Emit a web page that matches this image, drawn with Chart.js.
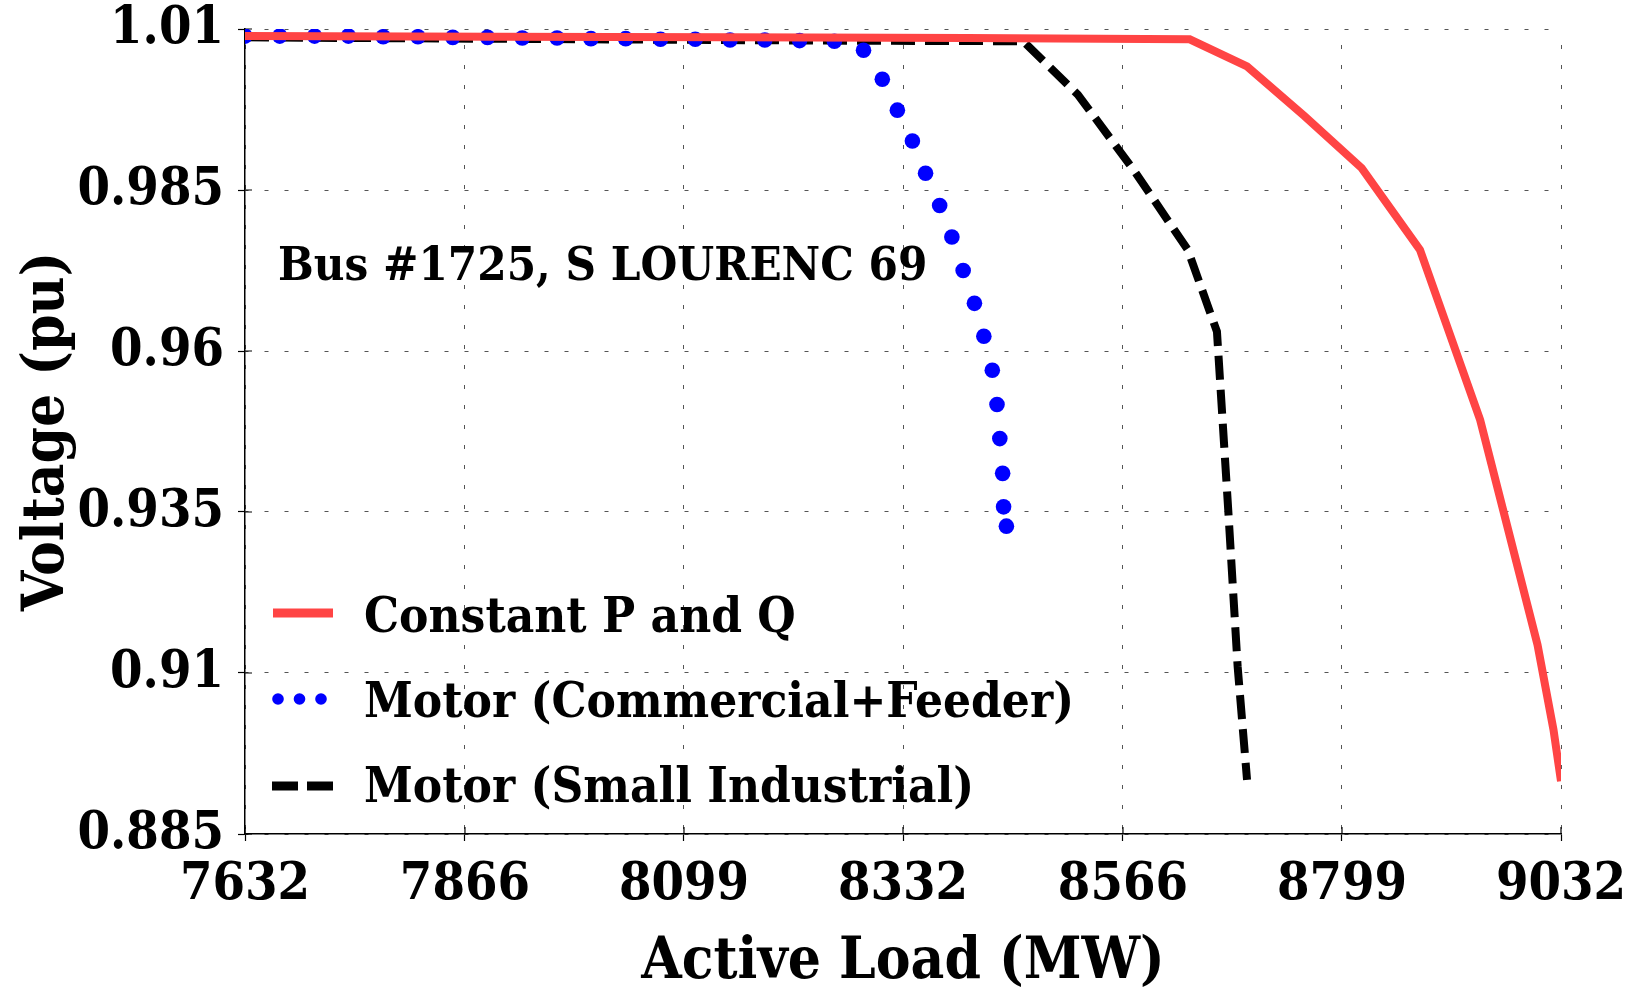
<!DOCTYPE html>
<html><head><meta charset="utf-8">
<script src="https://cdn.jsdelivr.net/npm/chart.js@4.4.1/dist/chart.umd.min.js"></script>
<style>html,body{margin:0;padding:0;background:#fff;overflow:hidden}canvas{display:block}</style>
</head><body>
<canvas id="c" width="1635" height="992"></canvas>
<script>
const FONT = '"DejaVu Serif Condensed", "DejaVu Serif", serif';

const X_TICKS = [7632, 7866, 8099, 8332, 8566, 8799, 9032];
const X_TICK_LABELS = ['7632', '7866', '8099', '8332', '8566', '8799', '9032'];
const Y_TICKS = [0.885, 0.91, 0.935, 0.96, 0.985, 1.01];
const Y_TICK_LABELS = ['0.885', '0.91', '0.935', '0.96', '0.985', '1.01'];
const X_TITLE = 'Active Load (MW)';
const Y_TITLE = 'Voltage (pu)';
const ANNOTATION = 'Bus #1725, S LOURENC 69';
const SERIES_LABELS = ['Constant P and Q', 'Motor (Commercial+Feeder)', 'Motor (Small Industrial)'];

// Constant P and Q
const redX = [7632, 7900, 8150, 8400, 8637, 8698, 8759, 8820, 8882, 8946, 9007, 9024, 9032];
const redY = [1.0089, 1.0088, 1.0087, 1.0086, 1.0084, 1.0042, 0.9965, 0.9884, 0.9757, 0.9493, 0.9144, 0.9012, 0.8932];

// Motor (Commercial+Feeder)
const blueX = [7632, 7669, 7706, 7742, 7779, 7816, 7853, 7890, 7927, 7964, 8000, 8037, 8074, 8111, 8148, 8185, 8222, 8259,
               8290, 8310, 8326, 8342, 8356, 8371, 8384, 8396, 8408, 8418, 8427, 8432, 8435, 8438, 8439, 8442];
const blueY = [1.0089, 1.0089, 1.0089, 1.0089, 1.0088, 1.0088, 1.0087, 1.0087, 1.0086, 1.0086, 1.0085, 1.0085, 1.0084, 1.0084, 1.0083, 1.0083, 1.0082, 1.0081,
               1.0067, 1.0022, 0.9974, 0.9926, 0.9876, 0.9826, 0.9777, 0.9725, 0.9674, 0.9623, 0.9570, 0.9517, 0.9464, 0.9410, 0.9358, 0.9328];

// Motor (Small Industrial)
const blackX = [7632, 8000, 8250, 8460, 8518, 8577, 8635, 8666, 8678, 8688, 8698];
const blackY = [1.0087, 1.0084, 1.0082, 1.0081, 0.9998, 0.9882, 0.9757, 0.9630, 0.9353, 0.9110, 0.8934];

const RED = 'rgb(255,68,68)';
const BLUE = '#0000ff';
const BLACK = '#000000';

const toPts = (xs, ys) => xs.map((x, i) => ({x: x, y: ys[i]}));

const innerTicks = {
  id: 'innerTicks',
  beforeDatasetsDraw(chart) {
    const {ctx, chartArea: a, scales: {x, y}} = chart;
    ctx.save();
    ctx.strokeStyle = '#000';
    ctx.lineWidth = 1.2;
    ctx.beginPath();
    X_TICKS.forEach(v => { const p = x.getPixelForValue(v); ctx.moveTo(p, a.bottom); ctx.lineTo(p, a.bottom - 7); });
    Y_TICKS.forEach(v => { const p = y.getPixelForValue(v); ctx.moveTo(a.left, p); ctx.lineTo(a.left + 7, p); });
    ctx.stroke();
    ctx.restore();
  }
};

const overlay = {
  id: 'overlay',
  afterDatasetsDraw(chart) {
    const ctx = chart.ctx;
    const ds = chart.data.datasets;
    ctx.save();
    ctx.fillStyle = '#000';
    ctx.textAlign = 'left';
    ctx.textBaseline = 'alphabetic';
    ctx.font = 'bold 47px ' + FONT;
    ctx.fillText(ANNOTATION, 278, 280);

    // legend
    ctx.font = 'bold 49px ' + FONT;
    const rows = [613, 699, 786];
    const baselines = [632, 717, 802];
    const sx1 = 333, tx = 364;
    ctx.strokeStyle = ds[0].borderColor; ctx.lineWidth = 9; ctx.setLineDash([]);
    ctx.beginPath(); ctx.moveTo(273, rows[0]); ctx.lineTo(sx1, rows[0]); ctx.stroke();
    ctx.fillStyle = ds[1].pointBackgroundColor;
    [278, 299.5, 321].forEach(cx => { ctx.beginPath(); ctx.arc(cx, rows[1], 5.8, 0, Math.PI * 2); ctx.fill(); });
    ctx.strokeStyle = ds[2].borderColor; ctx.lineWidth = 9; ctx.setLineDash([26, 9]);
    ctx.beginPath(); ctx.moveTo(272, rows[2]); ctx.lineTo(sx1, rows[2]); ctx.stroke();
    ctx.setLineDash([]);
    ctx.fillStyle = '#000';
    ds.forEach((d, i) => ctx.fillText(d.label, tx, baselines[i]));
    ctx.restore();
  }
};

const chart = new Chart(document.getElementById('c').getContext('2d'), {
  type: 'scatter',
  data: {
    datasets: [
      { label: SERIES_LABELS[0], data: toPts(redX, redY), showLine: true, borderColor: RED, backgroundColor: RED,
        borderWidth: 8, pointRadius: 0, tension: 0, order: 0, clip: 0, borderJoinStyle: 'miter' },
      { label: SERIES_LABELS[1], data: toPts(blueX, blueY), showLine: false, pointRadius: 7.8,
        pointBackgroundColor: BLUE, backgroundColor: BLUE, borderColor: BLUE, pointBorderWidth: 0, order: 1, clip: 0 },
      { label: SERIES_LABELS[2], data: toPts(blackX, blackY), showLine: true, borderColor: BLACK, backgroundColor: BLACK,
        borderWidth: 8, borderDash: [24, 10], pointRadius: 0, tension: 0, order: 2, clip: 0 }
    ]
  },
  options: {
    responsive: false, animation: false, devicePixelRatio: 1,
    layout: { padding: { left: 0, right: 74, top: 29, bottom: 0 } },
    plugins: { legend: { display: false }, tooltip: { enabled: false } },
    scales: {
      x: {
        type: 'linear', min: 7632, max: 9032,
        afterFit: s => { s.height = 158; s.paddingLeft = 0; s.paddingRight = 0; },
        afterBuildTicks: s => { s.ticks = X_TICKS.map(v => ({ value: v })); },
        ticks: {
          autoSkip: false, maxRotation: 0, padding: 13, color: '#000',
          font: { family: FONT, size: 52, weight: 'bold' },
          callback: v => { const i = X_TICKS.indexOf(v); return i >= 0 ? X_TICK_LABELS[i] : ''; }
        },
        grid: { color: '#555', lineWidth: 1, tickLength: 7, tickColor: '#000', tickWidth: 1.2 },
        border: { display: true, color: '#000', width: 1.5, dash: [4, 16], dashOffset: 4 },
        title: { display: true, text: X_TITLE, color: '#000', padding: 0,
                 font: { family: FONT, size: 58, weight: 'bold', lineHeight: 1.0 } }
      },
      y: {
        type: 'linear', min: 0.885, max: 1.01,
        afterFit: s => { s.width = 245; s.paddingTop = 0; s.paddingBottom = 0; },
        afterBuildTicks: s => { s.ticks = Y_TICKS.map(v => ({ value: v })); },
        ticks: {
          autoSkip: false, padding: 14, color: '#000',
          font: { family: FONT, size: 52, weight: 'bold' },
          callback: v => { const i = Y_TICKS.indexOf(v); return i >= 0 ? Y_TICK_LABELS[i] : ''; }
        },
        grid: { color: '#555', lineWidth: 1, tickLength: 7, tickColor: '#000', tickWidth: 1.2 },
        border: { display: true, color: '#000', width: 1.5, dash: [4, 16], dashOffset: 1 },
        title: { display: true, text: Y_TITLE, color: '#000', padding: { top: 16, bottom: 0 },
                 font: { family: FONT, size: 58, weight: 'bold', lineHeight: 1.1 } }
      }
    }
  },
  plugins: [innerTicks, overlay]
});
</script>
</body></html>
